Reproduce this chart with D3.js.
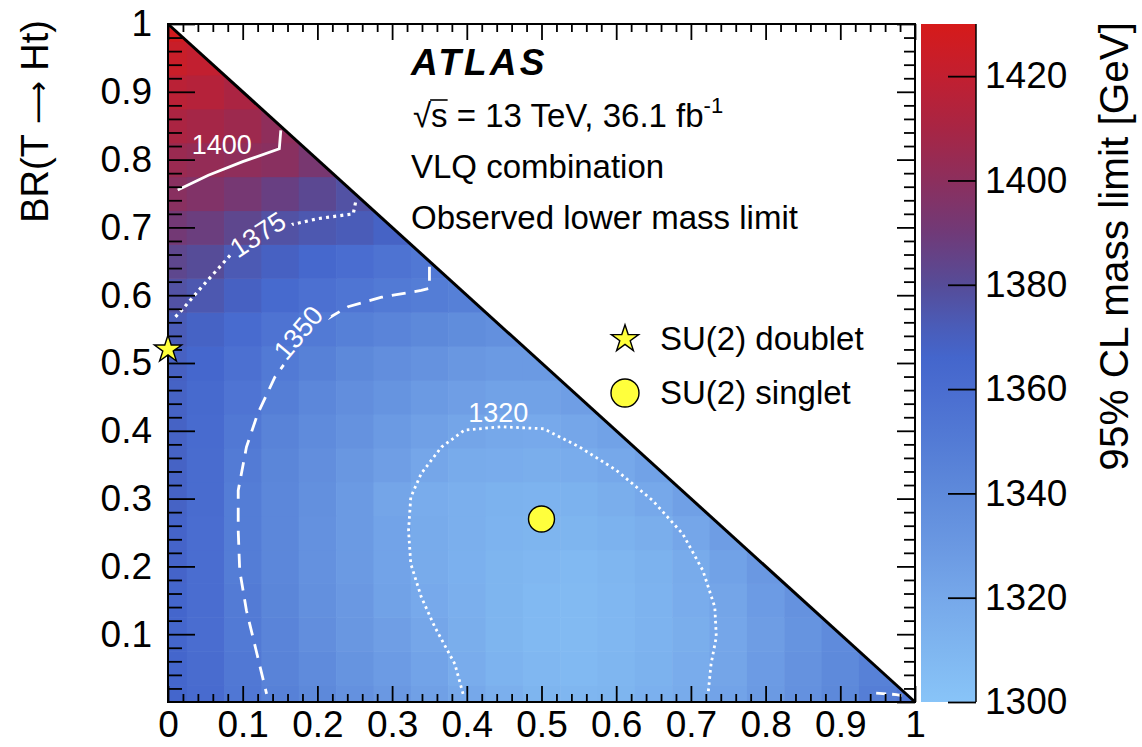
<!DOCTYPE html>
<html>
<head>
<meta charset="utf-8">
<script src="https://cdn.jsdelivr.net/npm/d3@7"></script>
<style>
  body { margin: 0; background: #fff; }
  text { font-family: "Liberation Sans", Arial, Helvetica, sans-serif; }
</style>
</head>
<body>
<div id="chart"></div>
<script>
// Observed 95% CL lower mass limit [GeV], one row per BR(T -> Ht) bin (0, 0.05, ... 1),
// each row runs over BR(T -> Wb) = 0, 0.05, ... up to 1 - BR(Ht).
const binStep = 0.05;
const limitRows = [
  [1366,1362,1353,1346,1341,1335,1330,1325,1320,1315,1311,1310,1311,1314,1318,1323,1329,1335,1341,1348,1353],
  [1366,1361,1352,1345,1339,1333,1328,1323,1317,1312,1309,1308,1310,1313,1317,1322,1328,1334,1340,1346],
  [1366,1360,1351,1344,1337,1331,1326,1321,1316,1311,1308,1307,1309,1312,1316,1321,1327,1333,1339],
  [1366,1360,1350,1343,1336,1330,1324,1319,1315,1311,1308,1307,1309,1312,1317,1322,1328,1334],
  [1367,1360,1349,1342,1335,1329,1323,1318,1314,1311,1309,1308,1310,1313,1318,1324,1330],
  [1367,1360,1349,1342,1335,1329,1323,1318,1315,1312,1311,1311,1313,1316,1321,1327],
  [1368,1361,1349,1342,1336,1329,1322,1317,1315,1313,1312,1313,1316,1320,1325],
  [1368,1361,1350,1343,1337,1331,1326,1321,1318,1317,1316,1317,1320,1324],
  [1368,1362,1352,1345,1339,1334,1329,1325,1322,1320,1319,1321,1324],
  [1368,1363,1355,1348,1342,1337,1333,1329,1326,1324,1324,1326],
  [1369,1365,1358,1351,1346,1341,1337,1334,1331,1329,1329],
  [1372,1368,1362,1356,1351,1347,1344,1341,1338,1336],
  [1377,1374,1369,1363,1358,1354,1351,1349,1347],
  [1383,1380,1373,1369,1364,1360,1356,1352],
  [1391,1388,1383,1377,1374,1372,1368],
  [1399,1396,1392,1387,1382,1377],
  [1405,1403,1401,1399,1393],
  [1411,1409,1406,1401],
  [1417,1415,1411],
  [1423,1420],
  [1428]
];

// contour lines [BR(Wb), BR(Ht)]
const contour1400 = [[0.013,0.755],[0.054,0.777],[0.100,0.797],[0.149,0.816],[0.151,0.843]];
const contour1375 = [[0.010,0.568],[0.016,0.575],[0.045,0.612],[0.085,0.661],[0.116,0.686],[0.161,0.703],
  [0.201,0.713],[0.248,0.720],[0.252,0.742]];
const contour1350 = [[0.350,0.642],[0.350,0.610],[0.339,0.607],[0.286,0.597],[0.241,0.583],[0.210,0.563],
  [0.185,0.535],[0.156,0.499],[0.143,0.479],[0.120,0.425],[0.105,0.376],[0.094,0.312],[0.094,0.253],
  [0.096,0.194],[0.105,0.135],[0.118,0.076],[0.132,0.012]];
const contour1350corner = [[0.948,0.013],[0.975,0.011],[0.990,0.008]];
const contour1320 = [[0.395,0.012],[0.384,0.056],[0.357,0.111],[0.339,0.155],[0.325,0.204],[0.322,0.253],
  [0.325,0.302],[0.339,0.337],[0.366,0.376],[0.397,0.401],[0.446,0.406],[0.503,0.403],[0.551,0.376],
  [0.600,0.342],[0.649,0.297],[0.689,0.248],[0.716,0.194],[0.732,0.140],[0.734,0.096],[0.727,0.056],
  [0.723,0.012]];

const contourLabels = ["1400", "1375", "1350", "1320"];

// benchmark models
const doubletPoint = [0.0, 0.52];
const singletPoint = [0.5, 0.27];

const axisTicks = [0, 0.1, 0.2, 0.3, 0.4, 0.5, 0.6, 0.7, 0.8, 0.9, 1];
const colorTicks = [1300, 1320, 1340, 1360, 1380, 1400, 1420];
const colorStops = [1300, 1310, 1320, 1330, 1340, 1350, 1360, 1366, 1372, 1380, 1390, 1400, 1410, 1420, 1430];
const colorHex = ["#88c4f8","#7fb6f0","#76a8ea","#6a98e2","#5e8adb","#537bd5","#4a6dd0","#4466cc","#4a5cb8",
  "#564c98","#703a78","#8c2f5d","#a82544","#c21f30","#d61a1a"];

const W = 1142, H = 747;
const x = d3.scaleLinear().domain([0, 1]).range([168, 915]);
const y = d3.scaleLinear().domain([0, 1]).range([702, 24]);
const color = d3.scaleLinear().domain(colorStops).range(colorHex).clamp(true);
const zScale = d3.scaleLinear().domain([1300, 1430]).range([702, 24]);

const svg = d3.select("#chart").append("svg")
  .attr("width", W).attr("height", H);

const defs = svg.append("defs");
defs.append("clipPath").attr("id", "tri")
  .append("path")
  .attr("d", `M${x(0)},${y(0)}L${x(1)},${y(0)}L${x(0)},${y(1)}Z`);

// heat map cells
const cells = [];
limitRows.forEach((row, j) => row.forEach((v, i) => cells.push({ bx: i * binStep, by: j * binStep, v })));

svg.append("g").attr("clip-path", "url(#tri)")
  .selectAll("rect")
  .data(cells)
  .join("rect")
  .attr("x", d => x(d.bx - binStep / 2))
  .attr("y", d => y(d.by + binStep / 2))
  .attr("width", d => x(d.bx + binStep / 2) - x(d.bx - binStep / 2) + 0.6)
  .attr("height", d => y(d.by - binStep / 2) - y(d.by + binStep / 2) + 0.6)
  .attr("fill", d => color(d.v));

// contour label mask (labels sit on the line)
const labelSpots = [
  { t: contourLabels[0], p: [0.072, 0.823], rot: 0, cut: false },
  { t: contourLabels[1], p: [0.120, 0.690], rot: -33, cut: true },
  { t: contourLabels[2], p: [0.174, 0.545], rot: -50, cut: true },
  { t: contourLabels[3], p: [0.442, 0.428], rot: 0, cut: false }
];
const mask = defs.append("mask").attr("id", "labelMask");
mask.append("rect").attr("width", W).attr("height", H).attr("fill", "#fff");
labelSpots.filter(d => d.cut).forEach(d => {
  mask.append("rect")
    .attr("x", -34).attr("y", -15).attr("width", 68).attr("height", 30)
    .attr("fill", "#000")
    .attr("transform", `translate(${x(d.p[0])},${y(d.p[1])}) rotate(${d.rot})`);
});

const line = d3.line().x(d => x(d[0])).y(d => y(d[1]));
const contours = svg.append("g").attr("mask", "url(#labelMask)")
  .attr("fill", "none").attr("stroke", "#fff").attr("stroke-linecap", "butt");

contours.append("path").attr("d", line(contour1400)).attr("stroke-width", 2.8);
contours.append("path").attr("d", line(contour1375)).attr("stroke-width", 3.2)
  .attr("stroke-dasharray", "3,4.2");
contours.append("path").attr("d", line(contour1350)).attr("stroke-width", 2.8)
  .attr("stroke-dasharray", "14,9");
contours.append("path").attr("d", line(contour1350corner)).attr("stroke-width", 2.8)
  .attr("stroke-dasharray", "10,6");
contours.append("path").attr("d", line(contour1320)).attr("stroke-width", 2.8)
  .attr("stroke-dasharray", "2.6,3.6");

svg.append("g").selectAll("text")
  .data(labelSpots)
  .join("text")
  .attr("transform", d => `translate(${x(d.p[0])},${y(d.p[1])}) rotate(${d.rot})`)
  .attr("text-anchor", "middle")
  .attr("dy", "0.36em")
  .attr("fill", "#fff")
  .attr("font-size", 27)
  .text(d => d.t);

// diagonal boundary
svg.append("line")
  .attr("x1", x(0)).attr("y1", y(1)).attr("x2", x(1)).attr("y2", y(0))
  .attr("stroke", "#000").attr("stroke-width", 3);

// axes
const minor = d3.range(0, 1.0001, 0.02).filter(v => Math.abs(v * 10 - Math.round(v * 10)) > 1e-6);
const fmt = d => (d === 0 || d === 1) ? String(d) : d3.format(".1f")(d);
const tickFont = 37;

function styleAxis(g) {
  g.select(".domain").remove();
  g.selectAll(".tick line").attr("stroke", "#000").attr("stroke-width", 1.8);
  g.selectAll(".tick text").attr("font-size", tickFont).attr("fill", "#000")
    .attr("font-family", "'Liberation Sans', Arial, sans-serif");
}

svg.append("g").attr("transform", `translate(0,${y(0)})`)
  .call(d3.axisBottom(x).tickValues(axisTicks).tickFormat(fmt).tickSizeInner(-16).tickSizeOuter(0).tickPadding(9))
  .call(styleAxis);
svg.append("g").attr("transform", `translate(0,${y(0)})`)
  .call(d3.axisBottom(x).tickValues(minor).tickFormat("").tickSizeInner(-8).tickSizeOuter(0))
  .call(styleAxis);
svg.append("g").attr("transform", `translate(0,${y(1)})`)
  .call(d3.axisTop(x).tickValues(axisTicks).tickFormat("").tickSizeInner(-16).tickSizeOuter(0))
  .call(styleAxis);
svg.append("g").attr("transform", `translate(0,${y(1)})`)
  .call(d3.axisTop(x).tickValues(minor).tickFormat("").tickSizeInner(-8).tickSizeOuter(0))
  .call(styleAxis);

svg.append("g").attr("transform", `translate(${x(0)},0)`)
  .call(d3.axisLeft(y).tickValues(axisTicks.slice(1)).tickFormat(fmt).tickSizeInner(-27).tickSizeOuter(0).tickPadding(16))
  .call(styleAxis);
svg.append("g").attr("transform", `translate(${x(0)},0)`)
  .call(d3.axisLeft(y).tickValues(minor).tickFormat("").tickSizeInner(-14).tickSizeOuter(0))
  .call(styleAxis);
svg.append("g").attr("transform", `translate(${x(1)},0)`)
  .call(d3.axisRight(y).tickValues(axisTicks).tickFormat("").tickSizeInner(-18).tickSizeOuter(0))
  .call(styleAxis);
svg.append("g").attr("transform", `translate(${x(1)},0)`)
  .call(d3.axisRight(y).tickValues(minor).tickFormat("").tickSizeInner(-11).tickSizeOuter(0))
  .call(styleAxis);

svg.append("rect")
  .attr("x", x(0)).attr("y", y(1)).attr("width", x(1) - x(0)).attr("height", y(0) - y(1))
  .attr("fill", "none").attr("stroke", "#000").attr("stroke-width", 2);

const yTitle = svg.append("text")
  .attr("transform", `translate(48,20) rotate(-90)`)
  .attr("text-anchor", "end")
  .attr("font-size", 38);
yTitle.append("tspan").text("BR(T ");
yTitle.append("tspan").attr("font-family", "'DejaVu Sans', sans-serif").attr("font-size", 30).text("\u27F6");
yTitle.append("tspan").text(" Ht)");

// colour bar
const grad = defs.append("linearGradient").attr("id", "zgrad")
  .attr("x1", 0).attr("y1", 1).attr("x2", 0).attr("y2", 0);
colorStops.forEach(s => grad.append("stop")
  .attr("offset", (s - 1300) / 130).attr("stop-color", color(s)));

svg.append("rect")
  .attr("x", 921).attr("y", zScale(1430)).attr("width", 55).attr("height", zScale(1300) - zScale(1430))
  .attr("fill", "url(#zgrad)");

svg.append("g").attr("transform", "translate(976,0)")
  .call(d3.axisRight(zScale).tickValues(colorTicks).tickFormat(d3.format("d"))
    .tickSizeInner(-28).tickSizeOuter(0).tickPadding(9))
  .call(styleAxis);
svg.append("line").attr("x1", 976).attr("x2", 976).attr("y1", zScale(1430)).attr("y2", zScale(1300))
  .attr("stroke", "#000").attr("stroke-width", 1.5);

svg.append("text")
  .attr("transform", `translate(1128,22) rotate(-90)`)
  .attr("text-anchor", "end")
  .attr("font-size", 40.5)
  .text("95% CL mass limit [GeV]");

// labels
svg.append("text").attr("x", 411).attr("y", 75)
  .attr("font-size", 37).attr("font-weight", "bold").attr("font-style", "italic")
  .attr("letter-spacing", 3.2)
  .text("ATLAS");

const sq = svg.append("text").attr("x", 413).attr("y", 127).attr("font-size", 33);
sq.append("tspan").text("\u221As = 13 TeV, 36.1 fb");
sq.append("tspan").attr("font-size", 22).attr("dy", -14).text("-1");
const e0 = sq.node().getExtentOfChar(0), e1 = sq.node().getExtentOfChar(1);
svg.append("line")
  .attr("x1", e0.x + e0.width - 1).attr("x2", e1.x + e1.width)
  .attr("y1", 100).attr("y2", 100)
  .attr("stroke", "#000").attr("stroke-width", 1.6);

svg.append("text").attr("x", 411).attr("y", 178).attr("font-size", 33).text("VLQ combination");
svg.append("text").attr("x", 411).attr("y", 229).attr("font-size", 33).text("Observed lower mass limit");

// markers
const star = d3.symbol().type(d3.symbolStar).size(230);
const markerFill = "#ffff3c";

svg.append("path")
  .attr("d", star())
  .attr("transform", `translate(${x(doubletPoint[0])},${y(doubletPoint[1])})`)
  .attr("fill", markerFill).attr("stroke", "#000").attr("stroke-width", 1.4);
svg.append("circle")
  .attr("cx", x(singletPoint[0])).attr("cy", y(singletPoint[1])).attr("r", 13)
  .attr("fill", markerFill).attr("stroke", "#000").attr("stroke-width", 1.4);

// legend
const legend = [
  { label: "SU(2) doublet", kind: "star" },
  { label: "SU(2) singlet", kind: "circle" }
];
const lg = svg.append("g").selectAll("g").data(legend).join("g")
  .attr("transform", (d, i) => `translate(625,${339 + i * 54})`);
lg.filter(d => d.kind === "star").append("path").attr("d", star())
  .attr("fill", markerFill).attr("stroke", "#000").attr("stroke-width", 1.4);
lg.filter(d => d.kind === "circle").append("circle").attr("r", 14)
  .attr("fill", markerFill).attr("stroke", "#000").attr("stroke-width", 1.4);
lg.append("text").attr("x", 35).attr("y", 11).attr("font-size", 33).text(d => d.label);
</script>
</body>
</html>
